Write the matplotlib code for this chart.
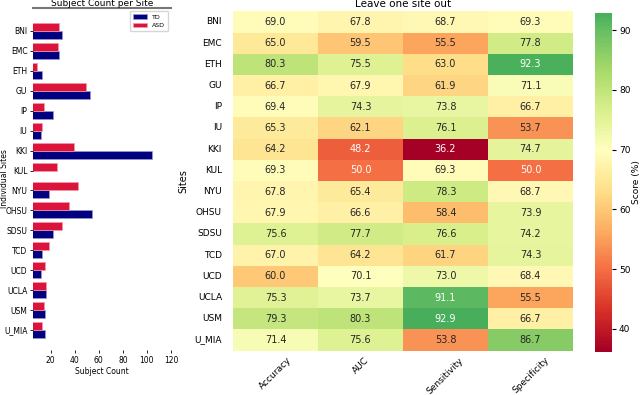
import numpy as np
import matplotlib
matplotlib.use("Agg")
import matplotlib.pyplot as plt
import seaborn as sns

# Sitios y conteos de sujetos
sitios = ["BNI", "EMC", "ETH", "GU", "IP", "IU", "KKI", "KUL", "NYU",
          "OHSU", "SDSU", "TCD", "UCD", "UCLA", "USM", "U_MIA"]
conteo_td = [29, 26.7, 12.8, 52.8, 22, 11.7, 104.4, 0, 18.8,
             54.5, 22, 12.8, 11.7, 15.8, 15.2, 15.2]
conteo_asd = [26.7, 26, 8.9, 49, 14.4, 12.8, 39, 25, 42.4,
              35, 29, 18.3, 15.2, 15.8, 14.1, 12.8]

# Metricas leave-one-site-out
metricas = ["Accuracy", "AUC", "Sensitivity", "Specificity"]
accuracy = [69.0, 65.0, 80.3, 66.7, 69.4, 65.3, 64.2, 69.3, 67.8,
            67.9, 75.6, 67.0, 60.0, 75.3, 79.3, 71.4]
auc = [67.8, 59.5, 75.5, 67.9, 74.3, 62.1, 48.2, 50.0, 65.4,
       66.6, 77.7, 64.2, 70.1, 73.7, 80.3, 75.6]
sensitivity = [68.7, 55.5, 63.0, 61.9, 73.8, 76.1, 36.2, 69.3, 78.3,
               58.4, 76.6, 61.7, 73.0, 91.1, 92.9, 53.8]
specificity = [69.3, 77.8, 92.3, 71.1, 66.7, 53.7, 74.7, 50.0, 68.7,
               73.9, 74.2, 74.3, 68.4, 55.5, 66.7, 86.7]

W, H = 640, 395
fig = plt.figure(figsize=(6.4, 3.95), dpi=100)

def caja(x0, y0, x1, y1):
    return [x0 / W, 1 - y1 / H, (x1 - x0) / W, (y1 - y0) / H]

# Grafico de barras por sitio
ax1 = fig.add_axes(caja(33, 8, 171, 350))
y = np.arange(len(sitios))
ax1.barh(y + 0.2, conteo_td, height=0.4, color="navy", edgecolor="#9999cc",
         linewidth=0.5, label="TD")
ax1.barh(y - 0.2, conteo_asd, height=0.4, color="crimson", edgecolor="#f099aa",
         linewidth=0.5, label="ASD")
ax1.set_yticks(y)
ax1.set_yticklabels(sitios, fontsize=5.5)
ax1.set_ylim(16.0, -1.15)
ax1.set_xlim(5.3, 119.5)
ax1.set_xticks([20, 40, 60, 80, 100, 120])
ax1.tick_params(axis="x", labelsize=5.5, length=2, width=0.6, direction="out", pad=2)
ax1.tick_params(axis="y", length=2, width=0.6, pad=2)
for lado in ["left", "right", "bottom"]:
    ax1.spines[lado].set_visible(False)
ax1.spines["top"].set_color("#777777")
ax1.spines["top"].set_linewidth(1.5)
ax1.set_title("Subject Count per Site", fontsize=6.5, pad=0.5)
ax1.set_xlabel("Subject Count", fontsize=5.5, labelpad=2)
ax1.set_ylabel("Individual Sites", fontsize=5.5)
ax1.yaxis.set_label_coords(-0.175, 0.5)
ax1.legend(loc="upper right", fontsize=4.5, handlelength=2.2, borderpad=0.5,
           framealpha=0.8, fancybox=True)

# Mapa de calor
datos = np.array([accuracy, auc, sensitivity, specificity]).T
ax2 = fig.add_axes(caja(233, 11.4, 573, 350.6))
cax = fig.add_axes(caja(595, 12.7, 612, 351.7))
sns.heatmap(datos, ax=ax2, cbar_ax=cax, cmap="RdYlGn", center=70, annot=True,
            fmt=".1f", annot_kws={"fontsize": 7}, xticklabels=metricas,
            yticklabels=sitios)
ax2.set_title("Leave one site out", fontsize=7.5, pad=3)
ax2.set_ylabel("Sites", fontsize=7)
ax2.tick_params(axis="y", labelsize=6.5, rotation=0, length=0, pad=8)
ax2.tick_params(axis="x", labelsize=6.5, length=0)
plt.setp(ax2.get_xticklabels(), rotation=45, ha="center")
cax.tick_params(labelsize=6.5, length=3, pad=2)
cax.set_ylabel("Score (%)", fontsize=6.5, labelpad=1)

fig.savefig("out.png", dpi=100)
